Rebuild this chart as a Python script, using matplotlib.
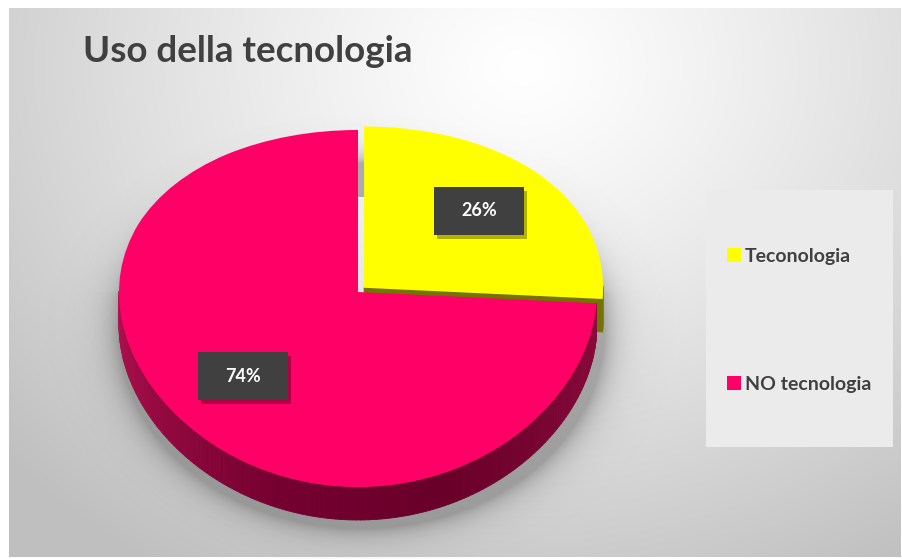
import numpy as np
import matplotlib
matplotlib.use("Agg")
import matplotlib.pyplot as plt
from matplotlib.patches import Rectangle
from matplotlib.collections import PolyCollection
from matplotlib.transforms import Transform

# chart data
title = "Uso della tecnologia"
labels = ["Teconologia", "NO tecnologia"]
shares = [26, 74]
colors = ["#ffff00", "#ff0066"]
explode = [0.035, 0.0]

plt.rcParams["font.family"] = ["Lato", "DejaVu Sans"]

W, H = 903, 559
fig = plt.figure(figsize=(W / 100, H / 100), dpi=100, facecolor="white")
ax = fig.add_axes([0, 0, 1, 1])

# soft grey backdrop, lightest near the top middle
yy, xx = np.mgrid[0:H, 0:W]
r = np.hypot((xx - 520) / 700, (yy - 60) / 600)
shade = 1 - 0.25 * np.clip(r, 0, 1) ** 1.2
ax.imshow(np.dstack([shade] * 3), extent=(9, W - 2, H - 2, 8), zorder=0)

# tilted disc: pixel centre, horizontal radius, far/near vertical radii, wall depth
cx, cy, rx, r_far, r_near, depth = 358, 292, 239, 162, 195, 33
qa = (r_far + r_near) / 2
qb = (r_far - r_near) / 2


def to_px(u, v):
    # near half of the disc drawn taller than the far half
    u = np.asarray(u, float)
    v = np.asarray(v, float)
    return cx + rx * u, cy - (qa * v + qb * v ** 2)


class DiscView(Transform):
    input_dims = output_dims = 2

    def transform_non_affine(self, values):
        u, v = np.asarray(values, float).T
        return np.column_stack(to_px(u, v))


pie_tf = DiscView() + ax.transData

# shadow under the disc
sy = np.where(yy - cy < 0, r_far + 4, r_near + 4)
sr = np.hypot((xx - cx - 3) / (rx + 4), (yy - cy - depth - 4) / sy)
dist = np.clip((sr - 1) * 180, 0, None)
shadow = np.zeros((H, W, 4))
shadow[..., :3] = 0.35
shadow[..., 3] = 0.45 * np.exp(-dist / 11) * (sr > 0.8)
ax.imshow(shadow, extent=(0, W, H, 0), zorder=1)

wedges, _ = ax.pie(shares, colors=colors, startangle=90, counterclock=False,
                   explode=explode, wedgeprops=dict(linewidth=0))


def rim(theta, center, k=1.0):
    t = np.deg2rad(theta)
    return to_px(center[0] + k * np.cos(t), center[1] + k * np.sin(t))


def wall_color(theta, base):
    # lighter on the left, darkest at the front, medium on the right
    a = theta % 360
    if base == "pink":
        stops = [(180, (0.70, 0.07, 0.31)), (250, (0.46, 0.0, 0.19)),
                 (290, (0.41, 0.0, 0.16)), (360, (0.55, 0.04, 0.24))]
    else:
        stops = [(180, (0.60, 0.60, 0.0)), (360, (0.52, 0.52, 0.0))]
    xs = [s[0] for s in stops]
    return tuple(np.interp(a, xs, [s[1][i] for s in stops]) for i in range(3))


z = 2
for w, c, name in zip(wedges, colors, ["yellow", "pink"]):
    ctr = w.center
    quads, qcols = [], []
    steps = np.linspace(w.theta1, w.theta2, int(abs(w.theta2 - w.theta1)) + 2)
    for t1, t2 in zip(steps[:-1], steps[1:]):
        if np.sin(np.deg2rad((t1 + t2) / 2)) >= 0:
            continue
        x1, y1 = rim(t1, ctr)
        x2, y2 = rim(t2, ctr)
        quads.append([(x1, y1), (x2, y2), (x2, y2 + depth), (x1, y1 + depth)])
        qcols.append(wall_color((t1 + t2) / 2, name))
    if name == "yellow":
        # cut face along the lower radius shows through the gap
        vx, vy = rim(0, ctr, 0)
        ex, ey = rim(w.theta1, ctr)
        quads.append([(vx, vy), (ex, ey), (ex, ey + depth), (vx, vy + depth)])
        qcols.append((0.45, 0.45, 0.0))
    ax.add_collection(PolyCollection(quads, facecolors=qcols, edgecolors=qcols,
                                     linewidths=0.6, zorder=z))
    w.set_transform(pie_tf)
    w.set_zorder(z + 1)
    z += 2

# value labels in dark boxes
for w, s in zip(wedges, shares):
    mid = (w.theta1 + w.theta2) / 2
    lx, ly = rim(mid, w.center, 0.66)
    ax.add_patch(Rectangle((lx - 45 + 3, ly - 24 + 4), 90, 48,
                           facecolor=(0, 0, 0, 0.3), edgecolor="none", zorder=8))
    ax.add_patch(Rectangle((lx - 45, ly - 24), 90, 48,
                           facecolor="#404040", edgecolor="none", zorder=9))
    ax.text(lx, ly, f"{s}%", color="white", fontsize=13, fontweight="bold",
            ha="center", va="center", zorder=10)

# title
ax.text(83, 52, title, fontsize=26.5, fontweight="bold", color="#404040",
        ha="left", va="center", zorder=5)

# legend panel
ax.add_patch(Rectangle((706, 190), 187, 257, facecolor="#ebebeb",
                       edgecolor="none", zorder=1))
ax.legend(wedges, labels, loc="upper left", bbox_to_anchor=(727, 248),
          bbox_transform=ax.transData, frameon=False, labelcolor="#404040",
          prop=dict(family="Lato", weight="bold", size=14), borderpad=0,
          borderaxespad=0, handlelength=0.72, handleheight=0.72,
          handletextpad=0.2, labelspacing=5.69)

ax.set_xlim(0, W)
ax.set_ylim(H, 0)
ax.set_aspect("auto")
ax.axis("off")

fig.savefig("out.png", dpi=100)
